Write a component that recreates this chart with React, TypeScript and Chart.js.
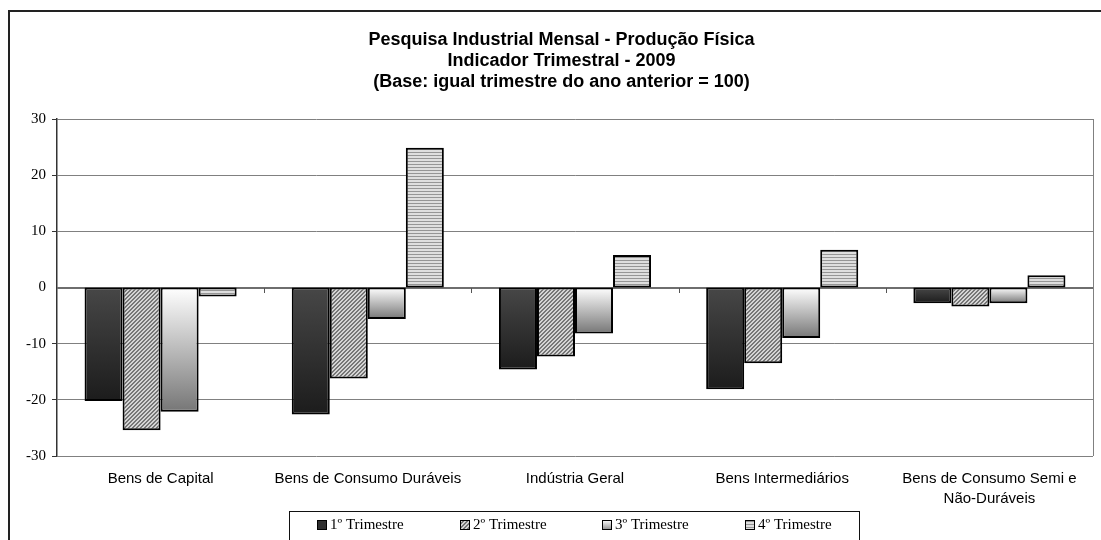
import React, { useEffect, useRef } from "react";
import { Chart, registerables } from "chart.js";

Chart.register(...registerables);

const titleLines = [
  "Pesquisa Industrial Mensal - Produção Física",
  "Indicador Trimestral - 2009",
  "(Base: igual trimestre do ano anterior = 100)",
];

const categories: (string | string[])[] = [
  "Bens de Capital",
  "Bens de Consumo Duráveis",
  "Indústria Geral",
  "Bens Intermediários",
  ["Bens de Consumo Semi e", "Não-Duráveis"],
];

const seriesNames = ["1º Trimestre", "2º Trimestre", "3º Trimestre", "4º Trimestre"];

const q1Values = [-20.2, -22.6, -14.6, -18.1, -2.8];
const q2Values = [-25.4, -16.2, -12.3, -13.5, -3.4];
const q3Values = [-22.1, -5.6, -8.2, -9.0, -2.8];
const q4Values = [-1.6, 24.9, 5.8, 6.7, 2.2];

const yMin = -30;
const yMax = 30;
const yStep = 10;

function makeHatch(): CanvasPattern | string {
  const c = document.createElement("canvas");
  c.width = 4;
  c.height = 4;
  const g = c.getContext("2d");
  if (!g) return "#aaaaaa";
  g.fillStyle = "#d4d4d4";
  g.fillRect(0, 0, 4, 4);
  g.fillStyle = "#767676";
  for (let i = 0; i < 4; i++) {
    g.fillRect(3 - i, i, 1, 1);
    g.fillRect((4 - i) % 4, i, 1, 1);
  }
  return g.createPattern(c, "repeat") || "#aaaaaa";
}

function makeStripes(): CanvasPattern | string {
  const c = document.createElement("canvas");
  c.width = 4;
  c.height = 3;
  const g = c.getContext("2d");
  if (!g) return "#cccccc";
  g.fillStyle = "#dedede";
  g.fillRect(0, 0, 4, 3);
  g.fillStyle = "#959595";
  g.fillRect(0, 2, 4, 1);
  return g.createPattern(c, "repeat") || "#cccccc";
}

function barGradient(zeroColor: string, endColor: string, fallback: string) {
  return (ctx: any) => {
    const chart = ctx.chart;
    if (!chart.chartArea || ctx.type !== "data") return fallback;
    const ys = chart.scales.y;
    const v = ctx.raw as number;
    const y0 = ys.getPixelForValue(0);
    const y1 = ys.getPixelForValue(v);
    if (!isFinite(y0) || !isFinite(y1) || Math.abs(y1 - y0) < 0.5) return fallback;
    const grad = chart.ctx.createLinearGradient(0, y0, 0, y1);
    grad.addColorStop(0, zeroColor);
    grad.addColorStop(1, endColor);
    return grad;
  };
}

export default function App() {
  const canvasRef = useRef<HTMLCanvasElement | null>(null);

  useEffect(() => {
    const canvas = canvasRef.current;
    if (!canvas) return;
    const hatch = makeHatch();
    const stripes = makeStripes();

    const legendFills = (g: CanvasRenderingContext2D, i: number, x: number, y: number, s: number) => {
      if (i === 0) return "#2e2e2e";
      if (i === 1) return hatch;
      if (i === 2) {
        const gr = g.createLinearGradient(0, y, 0, y + s);
        gr.addColorStop(0, "#ffffff");
        gr.addColorStop(1, "#8a8a8a");
        return gr;
      }
      return stripes;
    };

    const decorPlugin = {
      id: "decor",
      beforeDraw(chart: any) {
        const g = chart.ctx as CanvasRenderingContext2D;
        g.save();
        g.fillStyle = "#ffffff";
        g.fillRect(0, 0, chart.width, chart.height);
        g.strokeStyle = "#222222";
        g.lineWidth = 2;
        g.strokeRect(9, 11, chart.width + 50, chart.height + 50);
        // title
        g.fillStyle = "#000000";
        g.font = 'bold 18px "Liberation Sans", Arial, sans-serif';
        g.textAlign = "center";
        g.textBaseline = "middle";
        titleLines.forEach((line, i) => {
          g.fillText(line, 561.5, 40 + i * 21);
        });
        g.restore();
      },
      beforeDatasetsDraw(chart: any) {
        const g = chart.ctx as CanvasRenderingContext2D;
        const a = chart.chartArea;
        const ys = chart.scales.y;
        const y0 = Math.round(ys.getPixelForValue(0));
        g.save();
        g.strokeStyle = "#808080";
        g.lineWidth = 1;
        g.beginPath();
        g.moveTo(Math.round(a.right) + 0.5, a.top);
        g.lineTo(Math.round(a.right) + 0.5, a.bottom);
        g.stroke();
        // category axis at zero
        g.strokeStyle = "#6e6e6e";
        g.lineWidth = 2;
        g.beginPath();
        g.moveTo(a.left, y0);
        g.lineTo(a.right, y0);
        g.stroke();
        const n = categories.length;
        const w = (a.right - a.left) / n;
        g.strokeStyle = "#555555";
        g.lineWidth = 1;
        g.beginPath();
        for (let i = 1; i < n; i++) {
          const x = Math.round(a.left + i * w) + 0.5;
          g.moveTo(x, y0);
          g.lineTo(x, y0 + 5);
        }
        g.stroke();
        g.restore();
      },
      afterDraw(chart: any) {
        const g = chart.ctx as CanvasRenderingContext2D;
        g.save();
        g.strokeStyle = "#111111";
        g.lineWidth = 1;
        g.strokeRect(289.5, 511.5, 570, 60);
        const s = 10;
        g.font = '15px "Liberation Serif", "Times New Roman", serif';
        g.textBaseline = "middle";
        g.textAlign = "left";
        seriesNames.forEach((name, i) => {
          const x = Math.round(317 + i * 142.7);
          const y = 520;
          g.fillStyle = legendFills(g, i, x, y, s) as any;
          g.fillRect(x, y, s, s);
          g.strokeStyle = "#000000";
          g.strokeRect(x + 0.5, y + 0.5, s - 1, s - 1);
          g.fillStyle = "#000000";
          g.fillText(name, x + 13, 525.5);
        });
        g.restore();
      },
    };

    const common = {
      borderColor: "#000000",
      borderWidth: 2,
      borderSkipped: false,
      barPercentage: 1,
      categoryPercentage: 0.734,
    };

    const chart = new Chart(canvas, {
      type: "bar",
      data: {
        labels: categories,
        datasets: [
          { ...common, label: seriesNames[0], data: q1Values, backgroundColor: barGradient("#474747", "#1c1c1c", "#2e2e2e") },
          { ...common, label: seriesNames[1], data: q2Values, backgroundColor: hatch as any },
          { ...common, label: seriesNames[2], data: q3Values, backgroundColor: barGradient("#ffffff", "#767676", "#dddddd") },
          { ...common, label: seriesNames[3], data: q4Values, backgroundColor: stripes as any },
        ],
      },
      options: {
        responsive: false,
        animation: false,
        devicePixelRatio: 1,
        layout: { padding: { left: 16, right: 8, top: 119, bottom: 0 } },
        plugins: {
          legend: { display: false },
          tooltip: { enabled: false },
          title: { display: false },
        },
        scales: {
          x: {
            grid: { display: false, drawTicks: false },
            border: { display: false },
            ticks: {
              color: "#000000",
              font: { family: '"Liberation Sans", Arial, sans-serif', size: 15, lineHeight: 20 / 15 },
              padding: 13,
              maxRotation: 0,
              autoSkip: false,
            },
            afterFit: (scale: any) => {
              scale.height = 84;
            },
          },
          y: {
            min: yMin,
            max: yMax,
            ticks: {
              stepSize: yStep,
              color: "#000000",
              font: { family: '"Liberation Serif", "Times New Roman", serif', size: 15 },
              padding: 6,
            },
            grid: {
              color: "#808080",
              lineWidth: (c: any) => (c.tick && c.tick.value === 0 ? 0 : 1),
              tickColor: "#333333",
              tickLength: 5,
            },
            border: { color: "#333333", width: 1.5 },
            afterFit: (scale: any) => {
              scale.width = 41;
            },
          },
        },
      },
      plugins: [decorPlugin],
    } as any);

    return () => {
      chart.destroy();
    };
  }, []);

  return (
    <div style={{ position: "fixed", left: 0, top: 0, width: 1101, height: 540, background: "#ffffff" }}>
      <canvas ref={canvasRef} width={1101} height={540} style={{ display: "block", width: 1101, height: 540 }} />
    </div>
  );
}
